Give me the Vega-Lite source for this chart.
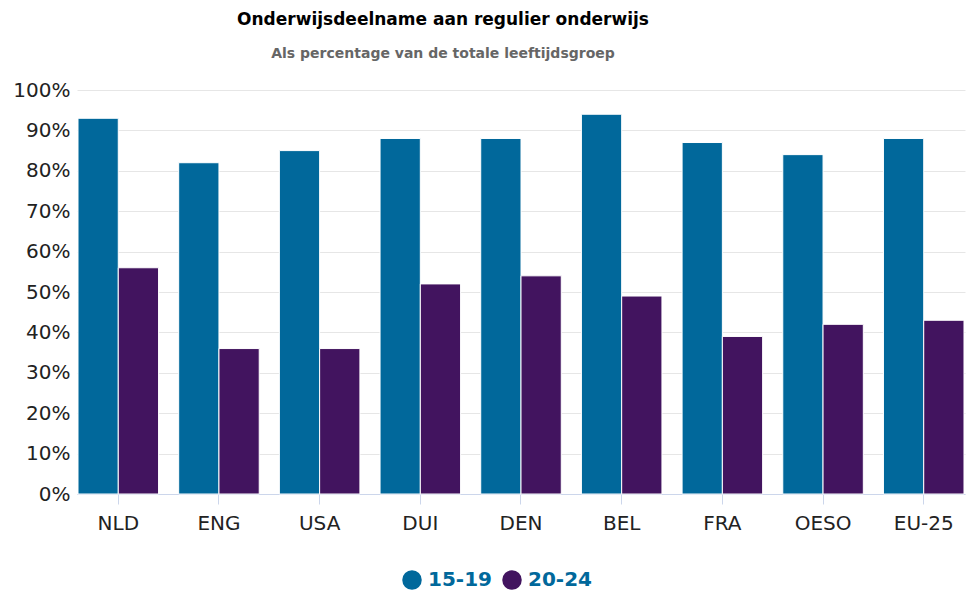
{
  "$schema": "https://vega.github.io/schema/vega-lite/v6.json",
  "autosize": {"type": "none"},
  "padding": {"left": 77, "top": 90, "right": 8, "bottom": 101},
  "width": 888,
  "height": 404,
  "background": "white",
  "title": {
    "text": "Onderwijsdeelname aan regulier onderwijs",
    "subtitle": "Als percentage van de totale leeftijdsgroep",
    "font": "DejaVu Sans",
    "fontSize": 17,
    "fontWeight": "bold",
    "color": "#000000",
    "subtitleFont": "DejaVu Sans",
    "subtitleFontSize": 14,
    "subtitleFontWeight": "bold",
    "subtitleColor": "#666666",
    "subtitlePadding": 18,
    "anchor": "middle",
    "dx": -78,
    "offset": 18
  },
  "config": {
    "view": {"stroke": null},
    "font": "DejaVu Sans"
  },
  "data": {
    "values": [
      {"land": "NLD", "groep": "15-19", "waarde": 93},
      {"land": "NLD", "groep": "20-24", "waarde": 56},
      {"land": "ENG", "groep": "15-19", "waarde": 82},
      {"land": "ENG", "groep": "20-24", "waarde": 36},
      {"land": "USA", "groep": "15-19", "waarde": 85},
      {"land": "USA", "groep": "20-24", "waarde": 36},
      {"land": "DUI", "groep": "15-19", "waarde": 88},
      {"land": "DUI", "groep": "20-24", "waarde": 52},
      {"land": "DEN", "groep": "15-19", "waarde": 88},
      {"land": "DEN", "groep": "20-24", "waarde": 54},
      {"land": "BEL", "groep": "15-19", "waarde": 94},
      {"land": "BEL", "groep": "20-24", "waarde": 49},
      {"land": "FRA", "groep": "15-19", "waarde": 87},
      {"land": "FRA", "groep": "20-24", "waarde": 39},
      {"land": "OESO", "groep": "15-19", "waarde": 84},
      {"land": "OESO", "groep": "20-24", "waarde": 42},
      {"land": "EU-25", "groep": "15-19", "waarde": 88},
      {"land": "EU-25", "groep": "20-24", "waarde": 43}
    ]
  },
  "mark": {"type": "bar", "stroke": "white", "strokeWidth": 1},
  "encoding": {
    "x": {
      "field": "land",
      "type": "nominal",
      "sort": ["NLD", "ENG", "USA", "DUI", "DEN", "BEL", "FRA", "OESO", "EU-25"],
      "scale": {"paddingInner": 0.2, "paddingOuter": 0.01},
      "axis": {
        "title": null,
        "labelAngle": 0,
        "labelFontSize": 20,
        "labelColor": "#222222",
        "labelPadding": 9,
        "tickColor": "#ccd6eb",
        "tickSize": 10,
        "domainColor": "#ccd6eb",
        "grid": false
      }
    },
    "xOffset": {"field": "groep", "type": "nominal", "scale": {"paddingInner": 0}},
    "y": {
      "field": "waarde",
      "type": "quantitative",
      "scale": {"domain": [0, 100]},
      "axis": {
        "title": null,
        "values": [0, 10, 20, 30, 40, 50, 60, 70, 80, 90, 100],
        "labelExpr": "datum.value + '%'",
        "labelFontSize": 20,
        "labelColor": "#222222",
        "labelPadding": 7,
        "domain": false,
        "ticks": false,
        "gridColor": "#e6e6e6"
      }
    },
    "color": {
      "field": "groep",
      "type": "nominal",
      "scale": {"domain": ["15-19", "20-24"], "range": ["#01689B", "#42145F"]},
      "legend": {
        "title": null,
        "orient": "none",
        "legendX": 325,
        "legendY": 480,
        "direction": "horizontal",
        "symbolType": "circle",
        "symbolSize": 380,
        "symbolStrokeWidth": 0,
        "labelFontSize": 20,
        "labelFontWeight": "bold",
        "labelColor": "#01689B",
        "columnPadding": 10,
        "labelOffset": 6
      }
    }
  }
}
